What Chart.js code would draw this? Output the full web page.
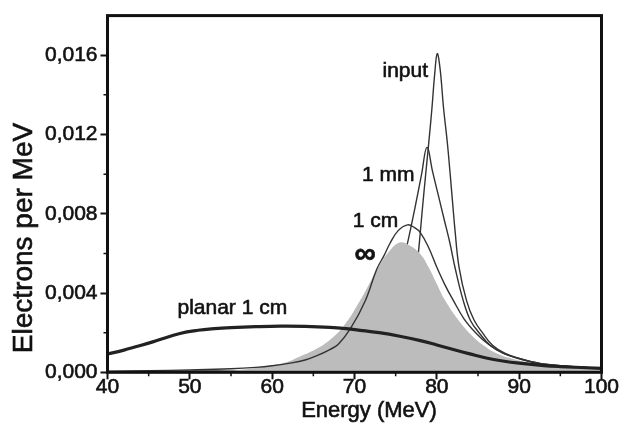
<!DOCTYPE html>
<html>
<head>
<meta charset="utf-8">
<script src="https://cdn.jsdelivr.net/npm/chart.js@4.4.1/dist/chart.umd.min.js"></script>
<style>
  html, body { margin: 0; padding: 0; background: #fff; }
  canvas { display: block; }
</style>
</head>
<body>
<canvas id="myChart" width="631" height="432"></canvas>
<script>
// Energy spectra (x in MeV, y in electrons per MeV)
const inputE = [40, 50, 60, 66, 70, 72, 74, 75.5, 76.5, 77.2, 77.6, 77.9, 78.2, 78.6, 79.0, 79.4, 79.75, 80.05, 80.4, 80.8, 81.3, 81.9, 82.2, 82.7, 83.6, 84.5, 85.6, 86.8, 88.3, 90, 92.5, 96, 100];
const inputY = [0.00002, 0.00004, 0.00008, 0.00015, 0.0003, 0.0005, 0.0009, 0.0016, 0.0026, 0.004, 0.0054, 0.00663, 0.00804, 0.0098, 0.0115, 0.0133, 0.0151, 0.01608, 0.0153, 0.0134, 0.01148, 0.00864, 0.0072, 0.0053, 0.00363, 0.00265, 0.00196, 0.00135, 0.00095, 0.0007, 0.00045, 0.0003, 0.0002];

const mmE = [40, 50, 60, 66, 70, 72, 74, 75.2, 76.0, 76.5, 77.35, 78.15, 78.8, 79.5, 80.2, 80.9, 81.6, 82.2, 83.2, 84.1, 85.2, 86.5, 88.1, 90, 92.3, 96, 100];
const mmY = [0.00003, 0.00005, 0.0001, 0.00025, 0.0006, 0.0012, 0.0026, 0.0043, 0.0058, 0.00663, 0.00831, 0.01, 0.01135, 0.0101, 0.0089, 0.0077, 0.0065, 0.0053, 0.00363, 0.0026, 0.00196, 0.00135, 0.00095, 0.00068, 0.00045, 0.0003, 0.0002];

const cmE = [40, 45, 50, 55, 58, 60, 62, 64, 65.5, 67, 68, 69.5, 71.3, 72.7, 73.6, 74.3, 75.3, 76.45, 77.3, 78, 79, 80, 81, 82, 83.3, 84.8, 86.3, 88.1, 90, 92.5, 96, 100];
const cmY = [0.00006, 0.00008, 0.00012, 0.00018, 0.00025, 0.00033, 0.00045, 0.00062, 0.00085, 0.00115, 0.0014, 0.0022, 0.0036, 0.0052, 0.0059, 0.0065, 0.00715, 0.00744, 0.0073, 0.00705, 0.0063, 0.0053, 0.0044, 0.00363, 0.0027, 0.00196, 0.0014, 0.00095, 0.0007, 0.00045, 0.0003, 0.0002];

const infE = [40, 45, 50, 55, 58, 60, 62, 63.5, 65, 66.6, 68.6, 70.7, 72.9, 74.2, 75.5, 76.7, 78, 79, 80, 81, 82.5, 84, 85.6, 87.3, 89.5, 91.8, 95, 100];
const infY = [0, 0.00001, 0.00003, 0.0001, 0.00022, 0.00035, 0.00055, 0.00082, 0.0011, 0.0015, 0.00229, 0.00363, 0.0053, 0.0061, 0.00655, 0.0064, 0.00597, 0.0053, 0.00446, 0.00363, 0.0027, 0.00196, 0.00138, 0.00095, 0.00065, 0.00045, 0.00028, 0.00015];

const planarE = [40, 42, 44, 46, 48.8, 51, 53, 55, 58, 61, 64, 67, 69, 71, 73, 75.5, 78, 80, 82, 84, 86, 88, 90, 93, 95, 100];
const planarY = [0.00092, 0.00112, 0.00135, 0.0016, 0.00196, 0.00212, 0.0022, 0.00225, 0.0023, 0.00233, 0.00232, 0.00227, 0.0022, 0.0021, 0.002, 0.00182, 0.0016, 0.00138, 0.00115, 0.00093, 0.00072, 0.00057, 0.00046, 0.00034, 0.00029, 0.0002];

const xTicks = [40, 50, 60, 70, 80, 90, 100];
const xMinor = [45, 55, 65, 75, 85, 95];
const yTicks = [0, 0.004, 0.008, 0.012, 0.016];
const yMinor = [0.002, 0.006, 0.010, 0.014];

// curve labels, anchored in data units
const curveLabels = [
    { text: 'input', x: 73.4, y: 0.01491, align: 'left' },
    { text: '1 mm', x: 70.9, y: 0.00964, align: 'left' },
    { text: '1 cm', x: 69.8, y: 0.00734, align: 'left' },
    { text: '∞', x: 71.3, y: 0.00593, align: 'center', big: true },
    { text: 'planar 1 cm', x: 48.5, y: 0.00296, align: 'left' }
];

const FONT = 'Liberation Sans, Arial, Helvetica, sans-serif';
const INK = '#111';
const THIN = '#333';

const zip = (xs, ys) => xs.map((x, i) => ({ x: x, y: ys[i] }));

function heavyText(ctx, text, x, y) {
    ctx.fillText(text, x, y);
    ctx.strokeText(text, x, y);
}

const frame = {
    id: 'frame',
    afterDraw(chart) {
        const { ctx, chartArea: a, scales: { x, y } } = chart;
        ctx.save();
        ctx.strokeStyle = INK;
        ctx.lineWidth = 3;
        ctx.strokeRect(a.left, a.top, a.right - a.left, a.bottom - a.top);
        ctx.lineWidth = 1.5;
        ctx.beginPath();
        xMinor.forEach(v => {
            const px = x.getPixelForValue(v);
            ctx.moveTo(px, a.bottom);
            ctx.lineTo(px, a.bottom + 4);
        });
        yMinor.forEach(v => {
            const py = y.getPixelForValue(v);
            ctx.moveTo(a.left, py);
            ctx.lineTo(a.left - 4, py);
        });
        ctx.stroke();

        // axis titles (sit off-centre in the original)
        ctx.fillStyle = INK;
        ctx.lineWidth = 0.6;
        ctx.textBaseline = 'middle';
        ctx.textAlign = 'center';
        ctx.font = '22px ' + FONT;
        heavyText(ctx, 'Energy (MeV)', 369, 411);
        ctx.translate(24, 238);
        ctx.rotate(-Math.PI / 2);
        ctx.font = '28px ' + FONT;
        heavyText(ctx, 'Electrons per MeV', 0, 0);
        ctx.restore();
    },
    afterDatasetsDraw(chart) {
        const { ctx, scales: { x, y } } = chart;
        ctx.save();
        ctx.fillStyle = INK;
        ctx.strokeStyle = INK;
        ctx.lineWidth = 0.6;
        curveLabels.forEach(l => {
            ctx.font = l.big ? 'bold 30px ' + FONT : '21px ' + FONT;
            ctx.textAlign = l.align;
            ctx.textBaseline = l.big ? 'middle' : 'alphabetic';
            heavyText(ctx, l.text, x.getPixelForValue(l.x), y.getPixelForValue(l.y));
        });
        ctx.restore();
    }
};

const line = (label, xs, ys, color, width, order) => ({
    label: label,
    data: zip(xs, ys),
    borderColor: color,
    borderWidth: width,
    pointRadius: 0,
    fill: false,
    tension: 0.4,
    order: order
});

const ctx = document.getElementById('myChart');
const myChart = new Chart(ctx, {
    type: 'line',
    data: {
        datasets: [
            line('planar 1 cm', planarE, planarY, '#222', 3.2, 0),
            line('1 cm', cmE, cmY, THIN, 1.4, 1),
            {
                label: '∞',
                data: zip(infE, infY),
                borderWidth: 0,
                borderColor: 'rgba(0,0,0,0)',
                backgroundColor: '#bcbcbc',
                pointRadius: 0,
                fill: 'origin',
                tension: 0.4,
                order: 2
            },
            line('1 mm', mmE, mmY, THIN, 1.4, 3),
            line('input', inputE, inputY, THIN, 1.4, 4)
        ]
    },
    options: {
        responsive: false,
        animation: false,
        devicePixelRatio: 1,
        layout: { padding: { left: 0, right: 29.5, top: 13.3, bottom: 0 } },
        plugins: {
            legend: { display: false },
            tooltip: { enabled: false }
        },
        scales: {
            x: {
                type: 'linear',
                min: 40,
                max: 100,
                afterBuildTicks: s => { s.ticks = xTicks.map(v => ({ value: v })); },
                afterFit: s => { s.height = 59.7; },
                border: { display: false },
                grid: { drawOnChartArea: false, tickLength: 7, tickWidth: 2, tickColor: INK },
                ticks: {
                    color: INK,
                    font: { family: FONT, size: 21 },
                    textStrokeColor: INK,
                    textStrokeWidth: 0.6,
                    padding: -5,
                    maxRotation: 0,
                    callback: v => String(v)
                }
            },
            y: {
                type: 'linear',
                min: 0,
                max: 0.018,
                afterBuildTicks: s => { s.ticks = yTicks.map(v => ({ value: v })); },
                afterFit: s => { s.width = 107.5; },
                border: { display: false },
                grid: { drawOnChartArea: false, tickLength: 7, tickWidth: 2, tickColor: INK },
                ticks: {
                    color: INK,
                    font: { family: FONT, size: 21 },
                    textStrokeColor: INK,
                    textStrokeWidth: 0.6,
                    padding: 3,
                    callback: v => v.toFixed(3).replace('.', ',')
                }
            }
        }
    },
    plugins: [frame]
});
</script>
</body>
</html>
